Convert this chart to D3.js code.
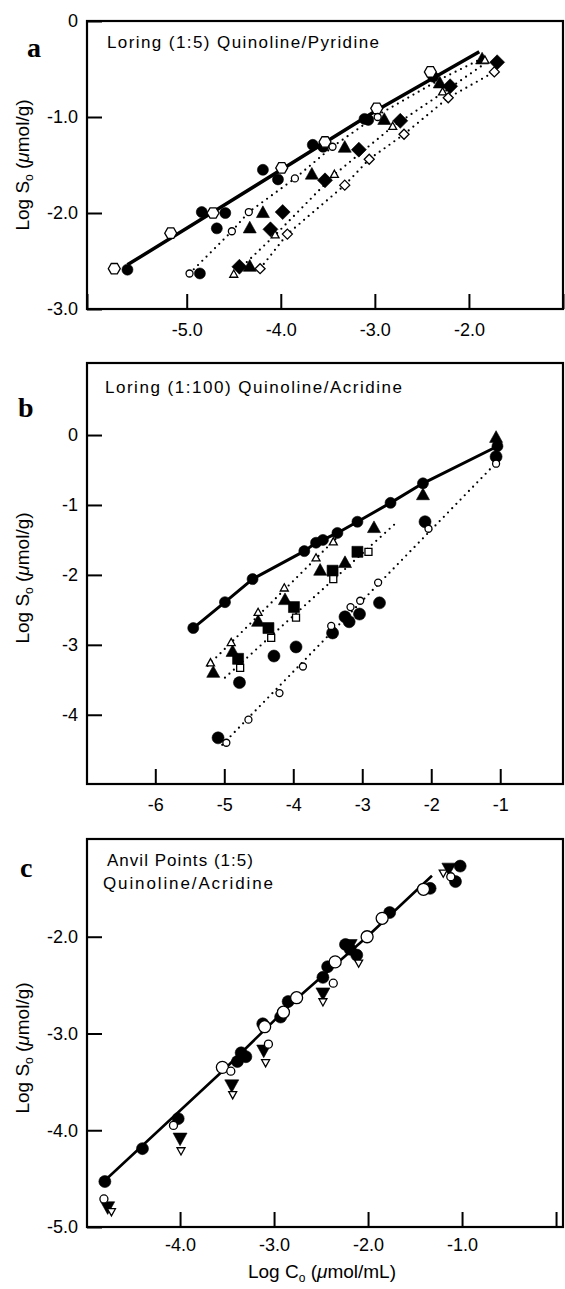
<!DOCTYPE html>
<html><head><meta charset="utf-8">
<script src="https://cdn.jsdelivr.net/npm/d3@7"></script>
<style>body{margin:0;background:#fff}</style>
</head><body><svg id="c" width="565" height="1289"></svg>
<script>
// ---------- Panel a: Loring (1:5) Quinoline/Pyridine ----------
const aXTicks = [-6.06, -5, -4, -3, -2, -1];
const aXTickLabels = ["", "-5.0", "-4.0", "-3.0", "-2.0", ""];
const aYTicks = [0, -1, -2, -3];
const aYTickLabels = ["0", "-1.0", "-2.0", "-3.0"];
const aSolidLine = [[-5.63,-2.54],[-4.72,-1.99],[-2.98,-0.93],[-1.89,-0.32]];
const aDottedA = [[-4.97,-2.63],[-4.52,-2.19],[-4.34,-1.99],[-3.85,-1.64],[-3.45,-1.31],[-2.97,-0.98],[-2.31,-0.61],[-1.86,-0.39]];
const aDottedB = [[-4.50,-2.64],[-4.06,-2.23],[-3.43,-1.60],[-2.81,-1.10],[-2.28,-0.75],[-1.81,-0.43]];
const aDottedC = [[-4.22,-2.58],[-3.93,-2.22],[-3.32,-1.71],[-3.06,-1.44],[-2.69,-1.18],[-2.22,-0.80],[-1.73,-0.53]];
const aFilledCircles = [[-5.63,-2.59],[-4.84,-1.99],[-4.59,-2.00],[-4.68,-2.16],[-4.86,-2.63],[-4.19,-1.55],[-4.03,-1.65],[-3.66,-1.29],[-3.55,-1.31],[-3.11,-1.02],[-3.07,-1.03],[-2.38,-0.58]];
const aOpenHexagons = [[-5.77,-2.58],[-5.17,-2.21],[-4.72,-2.00],[-3.99,-1.53],[-3.53,-1.26],[-2.98,-0.91],[-2.41,-0.53]];
const aOpenCircles = [[-4.97,-2.63],[-4.52,-2.19],[-4.34,-1.99],[-3.85,-1.64],[-3.45,-1.31],[-2.97,-1.00]];
const aFilledTriangles = [[-4.19,-2.00],[-4.33,-2.16],[-4.33,-2.56],[-3.67,-1.60],[-3.32,-1.32],[-2.90,-1.03],[-2.31,-0.65],[-1.86,-0.40]];
const aOpenTriangles = [[-4.50,-2.64],[-4.06,-2.23],[-3.43,-1.60],[-2.81,-1.10],[-2.28,-0.74],[-1.83,-0.41]];
const aFilledDiamonds = [[-3.98,-1.99],[-4.11,-2.17],[-4.44,-2.56],[-3.53,-1.66],[-3.17,-1.34],[-2.73,-1.04],[-2.20,-0.68],[-1.70,-0.43]];
const aOpenDiamonds = [[-4.22,-2.58],[-3.93,-2.22],[-3.32,-1.71],[-3.06,-1.44],[-2.69,-1.18],[-2.22,-0.80],[-1.73,-0.53]];

// ---------- Panel b: Loring (1:100) Quinoline/Acridine ----------
const bXTicks = [-6, -5, -4, -3, -2, -1];
const bXTickLabels = ["-6", "-5", "-4", "-3", "-2", "-1"];
const bYTicks = [0, -1, -2, -3, -4];
const bYTickLabels = ["0", "-1", "-2", "-3", "-4"];
const bSolidLine = [[-5.45,-2.76],[-4.99,-2.39],[-4.59,-2.06],[-3.84,-1.66],[-3.67,-1.54],[-3.57,-1.50],[-3.36,-1.40],[-3.07,-1.24],[-2.59,-0.97],[-2.12,-0.69],[-1.04,-0.16]];
const bDotted1 = [[-5.24,-3.30],[-3.35,-1.45]];
const bDotted2 = [[-4.99,-3.47],[-2.48,-1.23]];
const bDotted3 = [[-5.03,-4.43],[-1.06,-0.40]];
const bFilledCircles = [[-5.09,-4.33],[-4.78,-3.54],[-4.28,-3.16],[-3.96,-3.03],[-3.43,-2.83],[-3.25,-2.60],[-3.19,-2.67],[-3.04,-2.56],[-2.75,-2.40],[-2.09,-1.24],[-1.06,-0.31]];
const bOpenCircles = [[-4.97,-4.40],[-4.65,-4.07],[-4.20,-3.69],[-3.86,-3.31],[-3.45,-2.73],[-3.17,-2.46],[-3.03,-2.37],[-2.77,-2.11],[-2.04,-1.34],[-1.06,-0.41]];
const bFilledTriangles = [[-5.16,-3.40],[-4.88,-3.10],[-4.51,-2.67],[-4.12,-2.36],[-3.61,-1.94],[-3.25,-1.83],[-2.83,-1.33],[-2.12,-0.86],[-1.06,-0.04]];
const bOpenTriangles = [[-5.20,-3.26],[-4.90,-2.97],[-4.51,-2.54],[-4.13,-2.19],[-3.67,-1.76],[-3.42,-1.53]];
const bFilledSquares = [[-4.80,-3.20],[-4.36,-2.76],[-3.99,-2.46],[-3.43,-1.94],[-3.07,-1.67]];
const bOpenSquares = [[-4.77,-3.33],[-4.32,-2.90],[-3.96,-2.61],[-3.42,-2.06],[-2.91,-1.67]];

// ---------- Panel c: Anvil Points (1:5) Quinoline/Acridine ----------
const cXTicks = [-4, -3, -2, -1, 0];
const cXTickLabels = ["-4.0", "-3.0", "-2.0", "-1.0", ""];
const cYTicks = [-2, -3, -4, -5];
const cYTickLabels = ["-2.0", "-3.0", "-4.0", "-5.0"];
const cSolidLine = [[-4.80,-4.52],[-3.55,-3.39],[-2.76,-2.64],[-2.01,-2.00],[-1.32,-1.37]];
const cFilledCircles = [[-4.80,-4.53],[-4.40,-4.19],[-4.02,-3.88],[-3.39,-3.29],[-3.35,-3.20],[-3.30,-3.24],[-3.12,-2.90],[-2.93,-2.83],[-2.85,-2.67],[-2.48,-2.42],[-2.43,-2.31],[-2.24,-2.08],[-2.19,-2.13],[-2.12,-2.19],[-1.77,-1.75],[-1.34,-1.50],[-1.07,-1.43],[-1.02,-1.27]];
const cOpenCircles = [[-3.55,-3.35],[-3.10,-2.93],[-2.90,-2.78],[-2.76,-2.63],[-2.35,-2.26],[-2.01,-2.00],[-1.85,-1.81],[-1.41,-1.51]];
const cSmallOpenCircles = [[-4.81,-4.71],[-4.07,-3.95],[-3.46,-3.39],[-3.06,-3.11],[-2.37,-2.48],[-1.12,-1.38]];
const cFilledInvTriangles = [[-4.77,-4.79],[-4.00,-4.08],[-3.45,-3.53],[-3.11,-3.17],[-2.48,-2.58],[-2.19,-2.08],[-1.14,-1.29]];
const cOpenInvTriangles = [[-4.73,-4.84],[-3.99,-4.21],[-3.44,-3.63],[-3.09,-3.30],[-2.48,-2.67],[-2.10,-2.27],[-1.20,-1.34]];

// ---------- drawing ----------
const FONT = "'Liberation Sans', Arial, Helvetica, sans-serif";
const svg = d3.select("#c");
const L = 87, R = 563;

function shapePath(type, s) {
  const r = s / 2;
  if (type === "circle") return d3.symbol(d3.symbolCircle, Math.PI * r * r)();
  if (type === "hex") {
    const p = d3.range(6).map(i => [r * Math.cos(i * Math.PI / 3), r * Math.sin(i * Math.PI / 3)]);
    return "M" + p.map(q => q.join(",")).join("L") + "Z";
  }
  if (type === "tri") return `M0,${-r * 1.1}L${r},${r * 0.7}L${-r},${r * 0.7}Z`;
  if (type === "itri") return `M0,${r * 1.1}L${r},${-r * 0.7}L${-r},${-r * 0.7}Z`;
  if (type === "diamond") return `M0,${-r}L${r},0L0,${r}L${-r},0Z`;
  if (type === "square") return `M${-r},${-r}H${r}V${r}H${-r}Z`;
}

function drawPanel(p) {
  const x = d3.scaleLinear().domain(p.xDomain).range([L, R]);
  const y = d3.scaleLinear().domain(p.yDomain).range([p.bottom, p.top]);
  const g = svg.append("g");

  const xa = d3.axisBottom(x).tickValues(p.xTicks).tickFormat((d, i) => p.xLabels[i])
    .tickSizeInner(-15).tickSizeOuter(0).tickPadding(p.xPad);
  g.append("g").attr("transform", `translate(0,${p.bottom})`).call(xa)
    .attr("font-size", 18).attr("font-family", FONT)
    .call(s => { s.select(".domain").remove(); s.selectAll("line").attr("stroke-width", 2); });
  const ya = d3.axisLeft(y).tickValues(p.yTicks).tickFormat((d, i) => p.yLabels[i])
    .tickSizeInner(-15).tickSizeOuter(0).tickPadding(9);
  g.append("g").attr("transform", `translate(${L},0)`).call(ya)
    .attr("font-size", 18).attr("font-family", FONT)
    .call(s => { s.select(".domain").remove(); s.selectAll("line").attr("stroke-width", 2); });

  g.append("rect").attr("x", L).attr("y", p.top).attr("width", R - L).attr("height", p.bottom - p.top)
    .attr("fill", "none").attr("stroke", "#000").attr("stroke-width", 2.2);

  const line = d3.line().x(d => x(d[0])).y(d => y(d[1]));
  p.dotted.forEach(arr => {
    g.append("path").attr("d", line(arr)).attr("fill", "none").attr("stroke", "#000")
      .attr("stroke-width", 2.2).attr("stroke-linecap", "round").attr("stroke-dasharray", "0,6");
  });
  p.solid.forEach(arr => {
    g.append("path").attr("d", line(arr)).attr("fill", "none").attr("stroke", "#000")
      .attr("stroke-width", p.lineWidth).attr("stroke-linejoin", "round");
  });
  p.series.forEach(s => {
    g.append("g").selectAll("path").data(s.data).join("path")
      .attr("d", shapePath(s.shape, s.size))
      .attr("transform", d => `translate(${x(d[0])},${y(d[1])})`)
      .attr("fill", s.filled ? "#000" : "#fff")
      .attr("stroke", "#000").attr("stroke-width", s.filled ? 0.6 : 1.3);
  });

  svg.append("text").attr("x", p.letterX).attr("y", p.letterY).text(p.letter)
    .attr("font-family", "'Liberation Serif', 'Times New Roman', serif").attr("font-weight", "bold")
    .attr("font-size", 28);
  p.titles.forEach(t => {
    svg.append("text").attr("x", t.x).attr("y", t.y).text(t.text)
      .attr("font-family", FONT).attr("font-size", 17)
      .attr("textLength", t.len).attr("lengthAdjust", "spacing");
  });
  const yt = svg.append("text").attr("transform", `translate(29,${p.yTitleY}) rotate(-90)`)
    .attr("text-anchor", "middle").attr("font-family", FONT).attr("font-size", 19);
  yt.append("tspan").text("Log S");
  yt.append("tspan").text("o").attr("font-size", 12).attr("dy", 4);
  yt.append("tspan").text(" (").attr("dy", -4);
  yt.append("tspan").text("μ").attr("font-style", "italic");
  yt.append("tspan").text("mol/g)");
}

drawPanel({
  top: 21, bottom: 309, xDomain: [-6.06, -1], yDomain: [-3, 0],
  xTicks: aXTicks, xLabels: aXTickLabels, yTicks: aYTicks, yLabels: aYTickLabels, xPad: 14,
  lineWidth: 3.5,
  solid: [aSolidLine], dotted: [aDottedA, aDottedB, aDottedC],
  series: [
    { data: aFilledCircles, shape: "circle", size: 11, filled: true },
    { data: aFilledTriangles, shape: "tri", size: 13, filled: true },
    { data: aFilledDiamonds, shape: "diamond", size: 15, filled: true },
    { data: aOpenHexagons, shape: "hex", size: 12, filled: false },
    { data: aOpenCircles, shape: "circle", size: 7, filled: false },
    { data: aOpenTriangles, shape: "tri", size: 8, filled: false },
    { data: aOpenDiamonds, shape: "diamond", size: 10, filled: false }
  ],
  letter: "a", letterX: 27, letterY: 57,
  titles: [{ text: "Loring (1:5) Quinoline/Pyridine", x: 107, y: 48, len: 272 }],
  yTitleY: 165
});

drawPanel({
  top: 363, bottom: 784, xDomain: [-6.99, -0.09], yDomain: [-4.99, 1.03],
  xTicks: bXTicks, xLabels: bXTickLabels, yTicks: bYTicks, yLabels: bYTickLabels, xPad: 14,
  lineWidth: 3,
  solid: [bSolidLine], dotted: [bDotted1, bDotted2, bDotted3],
  series: [
    { data: bSolidLine, shape: "circle", size: 11, filled: true },
    { data: bFilledCircles, shape: "circle", size: 12, filled: true },
    { data: bFilledTriangles, shape: "tri", size: 13, filled: true },
    { data: bFilledSquares, shape: "square", size: 11, filled: true },
    { data: bOpenCircles, shape: "circle", size: 7, filled: false },
    { data: bOpenTriangles, shape: "tri", size: 8, filled: false },
    { data: bOpenSquares, shape: "square", size: 7, filled: false }
  ],
  letter: "b", letterX: 18, letterY: 417,
  titles: [{ text: "Loring (1:100) Quinoline/Acridine", x: 105, y: 393, len: 297 }],
  yTitleY: 578
});

drawPanel({
  top: 839, bottom: 1227, xDomain: [-4.99, 0.074], yDomain: [-5, -0.99],
  xTicks: cXTicks, xLabels: cXTickLabels, yTicks: cYTicks, yLabels: cYTickLabels, xPad: 11,
  lineWidth: 2.6,
  solid: [cSolidLine], dotted: [],
  series: [
    { data: cFilledCircles, shape: "circle", size: 12, filled: true },
    { data: cFilledInvTriangles, shape: "itri", size: 14, filled: true },
    { data: cOpenCircles, shape: "circle", size: 12, filled: false },
    { data: cSmallOpenCircles, shape: "circle", size: 8, filled: false },
    { data: cOpenInvTriangles, shape: "itri", size: 8, filled: false }
  ],
  letter: "c", letterX: 20, letterY: 877,
  titles: [
    { text: "Anvil Points (1:5)", x: 107, y: 866, len: 146 },
    { text: "Quinoline/Acridine", x: 103, y: 889, len: 170 }
  ],
  yTitleY: 1048
});

const xt = svg.append("text").attr("x", 322).attr("y", 1278).attr("text-anchor", "middle")
  .attr("font-family", FONT).attr("font-size", 19);
xt.append("tspan").text("Log C");
xt.append("tspan").text("o").attr("font-size", 12).attr("dy", 4);
xt.append("tspan").text(" (").attr("dy", -4);
xt.append("tspan").text("μ").attr("font-style", "italic");
xt.append("tspan").text("mol/mL)");
</script></body></html>
